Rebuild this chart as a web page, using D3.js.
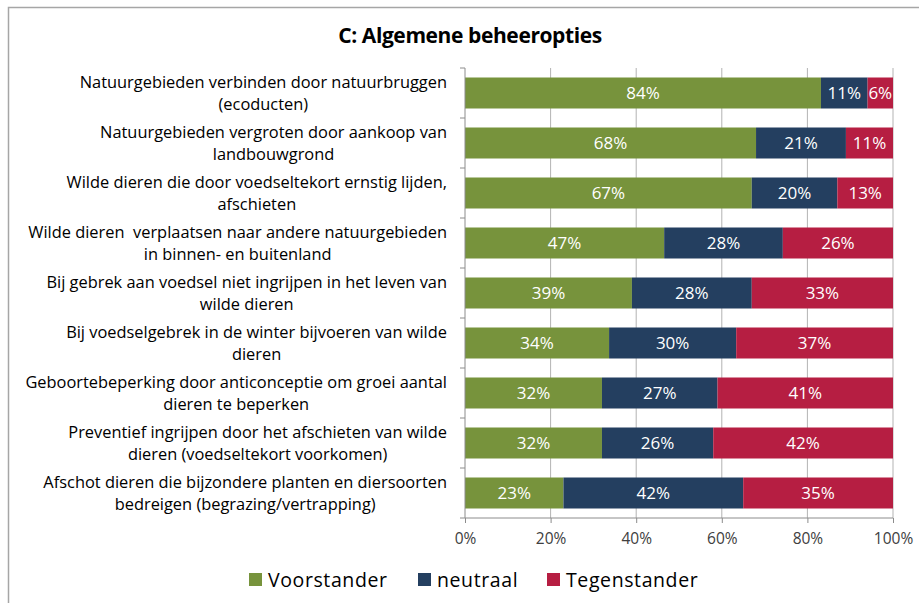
<!DOCTYPE html>
<html>
<head>
<meta charset="utf-8">
<script src="https://cdn.jsdelivr.net/npm/d3@7"></script>
<style>
  body { margin: 0; background: #fff; }
  svg { display: block; font-family: "Open Sans", "Noto Sans", sans-serif; }
</style>
</head>
<body>
<div id="chart"></div>
<script>
// categories (two lines per label)
const categories = [
  ["Natuurgebieden verbinden door natuurbruggen", "(ecoducten)"],
  ["Natuurgebieden vergroten door aankoop van", "landbouwgrond"],
  ["Wilde dieren die door voedseltekort ernstig lijden,", "afschieten"],
  ["Wilde dieren \u00a0verplaatsen naar andere natuurgebieden", "in binnen- en buitenland"],
  ["Bij gebrek aan voedsel niet ingrijpen in het leven van", "wilde dieren"],
  ["Bij voedselgebrek in de winter bijvoeren van wilde", "dieren"],
  ["Geboortebeperking door anticonceptie om groei aantal", "dieren te beperken"],
  ["Preventief ingrijpen door het afschieten van wilde", "dieren (voedseltekort voorkomen)"],
  ["Afschot dieren die bijzondere planten en diersoorten", "bedreigen (begrazing/vertrapping)"]
];
const voorstander = [84, 68, 67, 47, 39, 34, 32, 32, 23];
const neutraal    = [11, 21, 20, 28, 28, 30, 27, 26, 42];
const tegenstander = [6, 11, 13, 26, 33, 37, 41, 42, 35];
const seriesNames = ["Voorstander", "neutraal", "Tegenstander"];
const xTicks = [0, 0.2, 0.4, 0.6, 0.8, 1];

const colors = ["#77933c", "#243f60", "#b61e42"];

const width = 919, height = 603;
const margin = {top: 68, left: 465, right: 26, bottom: 85};

const rows = categories.map((c, i) => ({
  key: i,
  Voorstander: voorstander[i],
  neutraal: neutraal[i],
  Tegenstander: tegenstander[i]
}));

const stacked = d3.stack()
  .keys(seriesNames)
  .offset(d3.stackOffsetExpand)(rows);

const svg = d3.select("#chart").append("svg")
  .attr("width", width)
  .attr("height", height);

// outer frame
svg.append("rect")
  .attr("x", 8.5).attr("y", 7.5)
  .attr("width", width).attr("height", height)
  .attr("fill", "none")
  .attr("stroke", "#a6a6a6")
  .attr("stroke-width", 1.5);

svg.append("text")
  .attr("x", 470).attr("y", 43)
  .attr("text-anchor", "middle")
  .attr("font-size", 21)
  .attr("font-weight", "bold")
  .attr("letter-spacing", -0.4)
  .attr("fill", "#000")
  .text("C: Algemene beheeropties");

const x = d3.scaleLinear().domain([0, 1]).range([margin.left, width - margin.right]);
const y = d3.scaleBand().domain(d3.range(categories.length))
  .range([margin.top, height - margin.bottom])
  .paddingInner(0.38).paddingOuter(0.19);

// gridlines
svg.append("g")
  .selectAll("line")
  .data(xTicks.slice(1))
  .join("line")
    .attr("x1", d => x(d)).attr("x2", d => x(d))
    .attr("y1", margin.top).attr("y2", height - margin.bottom)
    .attr("stroke", "#b3b3b3");

// bars
const layer = svg.append("g")
  .selectAll("g")
  .data(stacked)
  .join("g")
    .attr("fill", (d, i) => colors[i]);

layer.selectAll("rect")
  .data(d => d)
  .join("rect")
    .attr("x", d => x(d[0]))
    .attr("width", d => x(d[1]) - x(d[0]))
    .attr("y", (d, i) => y(i))
    .attr("height", y.bandwidth());

const valueOf = [voorstander, neutraal, tegenstander];
layer.selectAll("text")
  .data((d, si) => d.map((v, i) => ({v, i, si})))
  .join("text")
    .attr("x", d => (x(d.v[0]) + x(d.v[1])) / 2)
    .attr("y", d => y(d.i) + y.bandwidth() / 2)
    .attr("dy", "0.36em")
    .attr("text-anchor", "middle")
    .attr("font-size", 17)
    .attr("fill", "#fff")
    .text(d => valueOf[d.si][d.i] + "%");

// x axis
svg.append("g")
  .attr("transform", `translate(0,${height - margin.bottom})`)
  .call(d3.axisBottom(x).tickValues(xTicks).tickFormat(d3.format(".0%")).tickSize(5).tickPadding(10))
  .call(g => g.select(".domain").attr("stroke", "#8c8c8c").attr("d", `M${x(0)},0H${x(1)}`))
  .call(g => g.selectAll(".tick line").attr("stroke", "#8c8c8c"))
  .call(g => g.selectAll(".tick text").attr("font-size", 15.5).attr("fill", "#404040")
    .attr("font-family", "\"Open Sans\", sans-serif"));

// y axis line with category boundary ticks
const yAxis = svg.append("g");
yAxis.append("line")
  .attr("x1", x(0)).attr("x2", x(0))
  .attr("y1", margin.top).attr("y2", height - margin.bottom)
  .attr("stroke", "#8c8c8c");
yAxis.selectAll("line.tk")
  .data(d3.range(categories.length + 1))
  .join("line")
    .attr("class", "tk")
    .attr("x1", x(0) - 5).attr("x2", x(0))
    .attr("y1", i => margin.top + i * y.step())
    .attr("y2", i => margin.top + i * y.step())
    .attr("stroke", "#8c8c8c");

// category labels: lines centred on each other, block right-aligned
const labelRight = 447;
const lab = svg.append("g").attr("font-size", 16.4).attr("fill", "#000");
categories.forEach((lines, i) => {
  const cy = y(i) + y.bandwidth() / 2;
  const t = lab.append("text").attr("text-anchor", "middle");
  lines.forEach((ln, k) => {
    t.append("tspan")
      .attr("y", cy + (k - (lines.length - 1) / 2) * 21.5)
      .attr("dy", "0.36em")
      .text(ln);
  });
  const w = d3.max(t.selectAll("tspan").nodes(), n => n.getComputedTextLength());
  t.selectAll("tspan").attr("x", labelRight - w / 2);
});

// legend
const legendX = [249, 418, 547];
const leg = svg.append("g")
  .selectAll("g")
  .data(seriesNames)
  .join("g")
    .attr("transform", (d, i) => `translate(${legendX[i]},580)`);
leg.append("rect")
  .attr("x", 0).attr("y", -7).attr("width", 13).attr("height", 13)
  .attr("fill", (d, i) => colors[i]);
leg.append("text")
  .attr("x", 19).attr("dy", "0.36em")
  .attr("font-size", 19.5)
  .attr("letter-spacing", 0.6)
  .attr("fill", "#000")
  .text(d => d);
</script>
</body>
</html>
